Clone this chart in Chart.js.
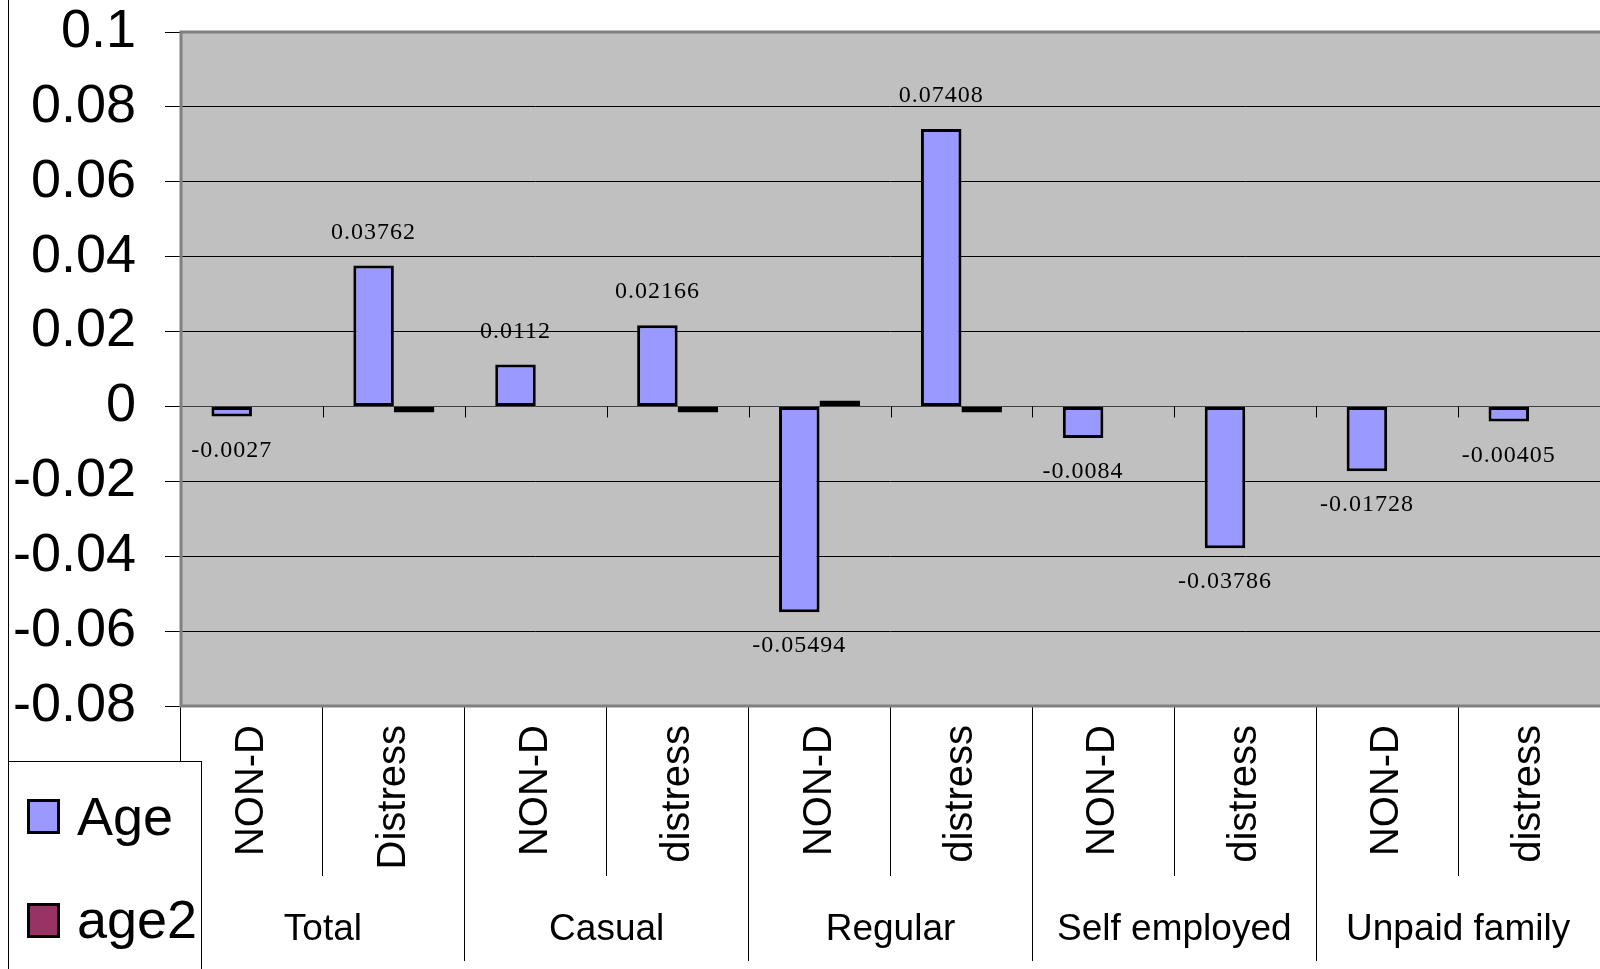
<!DOCTYPE html>
<html>
<head>
<meta charset="utf-8">
<title>Age and age2 by employment type</title>
<script src="https://cdn.jsdelivr.net/npm/chart.js@4"></script>
<style>
  body { margin: 0; background: #fff; overflow: hidden; }
  #wrap { position: relative; width: 1600px; height: 969px; }
  #edge { position: absolute; left: 8px; top: 0; width: 1px; height: 969px; background: #000; }
  #legend {
    position: absolute; left: 8px; top: 761px; width: 192px; height: 240px;
    background: #fff; border: 1px solid #000;
    font-family: "Liberation Sans", Arial, sans-serif; font-size: 54px; color: #000;
  }
  .item { position: absolute; left: 68px; height: 54px; line-height: 54px; white-space: nowrap; }
  .box { position: absolute; left: 18px; width: 27px; height: 29px; border: 3px solid #000; }
</style>
</head>
<body>
<div id="wrap">
  <canvas id="chart" width="1600" height="969"></canvas>
  <div id="edge"></div>
  <div id="legend"></div>
</div>
<script>
// sub categories along the x axis, grouped in pairs
const subLabels = ["NON-D", "Distress", "NON-D", "distress", "NON-D", "distress", "NON-D", "distress", "NON-D", "distress"];
const groupLabels = ["Total", "Casual", "Regular", "Self employed", "Unpaid family"];

// series (age2 is too small to show where it is left empty)
const ageValues = [-0.0027, 0.03762, 0.0112, 0.02166, -0.05494, 0.07408, -0.0084, -0.03786, -0.01728, -0.00405];
const age2Values = [null, -0.0003, null, -0.0003, 0.0004, -0.0003, null, null, null, null];

// y axis
const yMin = -0.08;
const yMax = 0.1;
const yStep = 0.02;

const sansFont = '"Liberation Sans", Arial, sans-serif';

/* grey plot area, its frame and the little ticks on the zero line */
const plotFrame = {
    id: "plotFrame",
    beforeDraw(chart) {
        const { ctx, chartArea: a } = chart;
        ctx.save();
        ctx.fillStyle = "#c0c0c0";
        ctx.fillRect(a.left, a.top, a.right - a.left, a.bottom - a.top);
        ctx.restore();
    },
    beforeDatasetsDraw(chart) {
        const { ctx, chartArea: a, scales } = chart;
        const zy = scales.y.getPixelForValue(0);
        ctx.save();
        ctx.strokeStyle = "#000";
        ctx.lineWidth = 1;
        for (let i = 1; i < subLabels.length; i++) {
            const x = Math.round(scales.x.getPixelForDecimal(i / subLabels.length)) + 0.5;
            ctx.beginPath();
            ctx.moveTo(x, zy);
            ctx.lineTo(x, zy + 11);
            ctx.stroke();
        }
        ctx.strokeStyle = "#808080";
        ctx.lineWidth = 3;
        ctx.beginPath();
        ctx.moveTo(a.right + 2, a.top);
        ctx.lineTo(a.left, a.top);
        ctx.lineTo(a.left, a.bottom);
        ctx.lineTo(a.right + 2, a.bottom);
        ctx.stroke();
        ctx.restore();
    }
};

/* value labels on the Age bars */
const valueLabels = {
    id: "valueLabels",
    afterDatasetsDraw(chart) {
        const { ctx } = chart;
        const meta = chart.getDatasetMeta(0);
        ctx.save();
        ctx.font = '24px "Liberation Serif", "Times New Roman", serif';
        ctx.letterSpacing = "1px";
        ctx.fillStyle = "#000";
        ctx.textAlign = "center";
        ctx.textBaseline = "alphabetic";
        meta.data.forEach(function(bar, i) {
            const v = ageValues[i];
            const y = v >= 0 ? bar.y - 27 : bar.y + 40;
            ctx.fillText(String(v), bar.x, y);
        });
        ctx.restore();
    }
};

const chart = new Chart(document.getElementById("chart"), {
    type: "bar",
    data: {
        labels: subLabels,
        datasets: [{
            label: "Age",
            data: ageValues,
            backgroundColor: "#9999ff",
            borderColor: "#000",
            borderWidth: 3,
            borderSkipped: false,
            categoryPercentage: 0.571,
            barPercentage: 1,
        }, {
            label: "age2",
            data: age2Values,
            backgroundColor: "#993366",
            borderColor: "#000",
            borderWidth: 3,
            borderSkipped: false,
            minBarLength: 6,
            categoryPercentage: 0.571,
            barPercentage: 1,
        }],
    },
    options: {
        responsive: false,
        animation: false,
        layout: { padding: { top: 32, left: 0, right: 0, bottom: 0 } },
        plugins: {
            legend: { display: false },
            tooltip: { enabled: false },
        },
        scales: {
            x: {
                offset: true,
                grid: { offset: true, drawOnChartArea: false, tickLength: 170, color: "#000", lineWidth: 1 },
                border: { display: false },
                ticks: {
                    autoSkip: false,
                    minRotation: 90,
                    maxRotation: 90,
                    padding: -151,
                    color: "#000",
                    font: { family: sansFont, size: 40 },
                },
                afterFit(s) { s.height = 170; },
            },
            x2: {
                type: "category",
                labels: groupLabels,
                position: "bottom",
                offset: true,
                grid: { offset: true, drawOnChartArea: false, tickLength: 85, color: "#000", lineWidth: 1 },
                border: { display: false },
                ticks: {
                    autoSkip: false,
                    maxRotation: 0,
                    padding: -53,
                    color: "#000",
                    font: { family: sansFont, size: 37 },
                },
                afterFit(s) { s.height = 93; },
            },
            y: {
                min: yMin,
                max: yMax,
                ticks: {
                    stepSize: yStep,
                    padding: 29,
                    color: "#000",
                    font: { family: sansFont, size: 54 },
                    callback: function(v) { return String(parseFloat(v.toFixed(2))); },
                },
                grid: {
                    color: function(c) { return c.tick && c.tick.value === 0 ? "#404040" : "#000"; },
                    tickColor: "#000",
                    tickLength: 16,
                    lineWidth: 1,
                },
                border: { display: false },
                afterFit(s) {
                    s.width = 181;
                    s.paddingTop = 0;
                    s.paddingBottom = 0;
                },
            },
        },
    },
    plugins: [plotFrame, valueLabels],
});

/* legend box in the lower left corner, built from the datasets */
const legendBox = document.getElementById("legend");
chart.data.datasets.forEach(function(ds, i) {
    const box = document.createElement("div");
    box.className = "box";
    box.style.top = (37 + i * 104) + "px";
    box.style.background = ds.backgroundColor;
    const item = document.createElement("div");
    item.className = "item";
    item.style.top = (27 + i * 103) + "px";
    item.textContent = ds.label;
    legendBox.appendChild(box);
    legendBox.appendChild(item);
});
</script>
</body>
</html>
